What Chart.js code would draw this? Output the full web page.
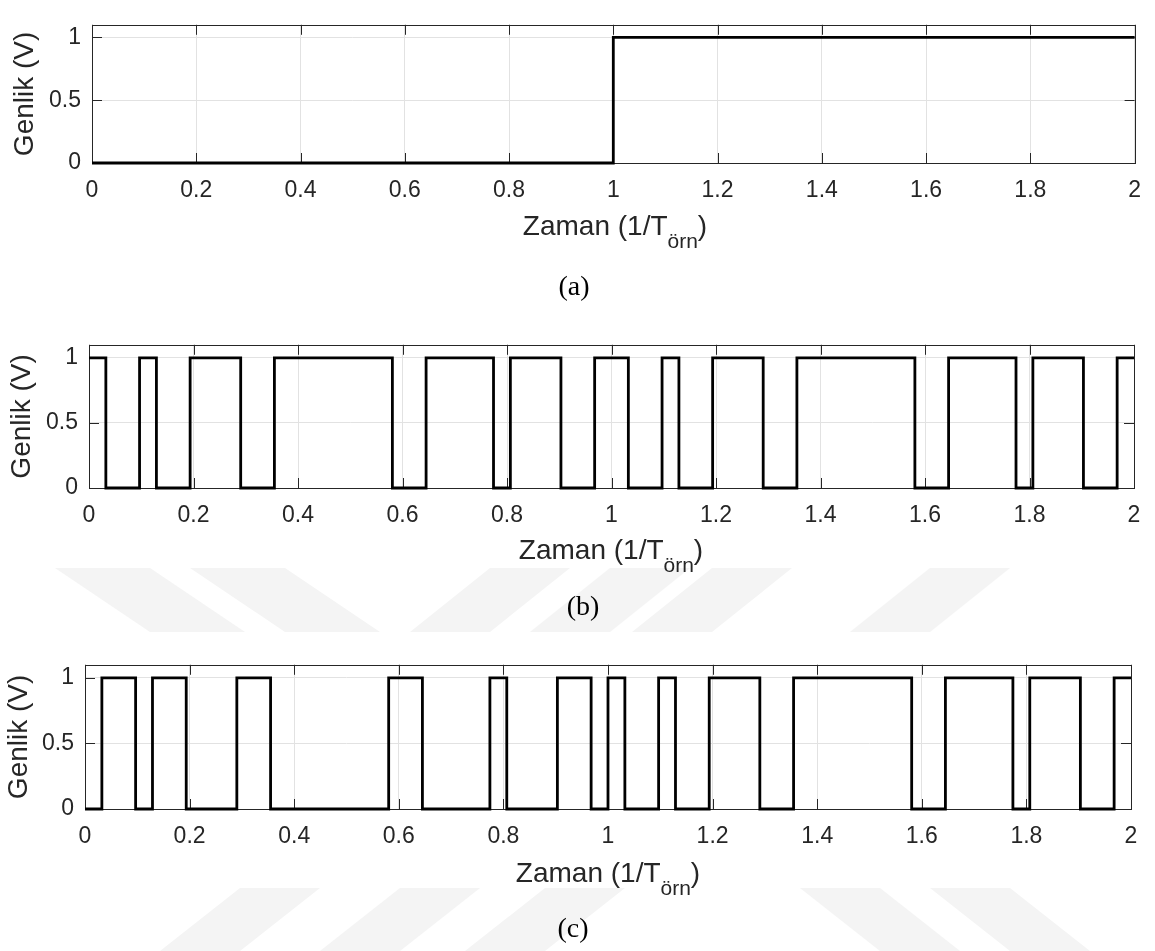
<!DOCTYPE html>
<html lang="tr">
<head>
<meta charset="utf-8">
<title>Genlik – Zaman</title>
<script src="https://cdn.jsdelivr.net/npm/chart.js@4.4.1/dist/chart.umd.min.js"></script>
<style>
  html, body { margin: 0; padding: 0; background: #fff; }
  #page { position: relative; width: 1155px; height: 951px; overflow: hidden; background: #fff; }
  #page canvas { position: absolute; left: 0; }
  .wm { position: absolute; left: 0; top: 0; }
  .xtitle {
    position: absolute; transform: translateX(-50%); white-space: nowrap;
    font-family: "Liberation Sans", Arial, sans-serif; font-size: 28px; line-height: 28px; color: #262626;
  }
  .xtitle sub { font-size: 21px; line-height: 0; vertical-align: -13px; }
  .cap {
    position: absolute; transform: translateX(-50%); white-space: nowrap;
    font-family: "Liberation Serif", "Times New Roman", serif; font-size: 28px; line-height: 28px; color: #000;
  }
</style>
</head>
<body>
<div id="page">
  <!-- faint background watermark marks -->
  <svg class="wm" width="1155" height="951">
    <g fill="#f4f4f4">
      <polygon points="55,568 150,568 245,632 150,632"/>
      <polygon points="190,568 285,568 380,632 285,632"/>
      <polygon points="490,568 570,568 490,632 410,632"/>
      <polygon points="610,568 690,568 610,632 530,632"/>
      <polygon points="712,568 792,568 712,632 632,632"/>
      <polygon points="930,568 1010,568 930,632 850,632"/>
      <polygon points="240,888 320,888 240,951 160,951"/>
      <polygon points="400,888 480,888 400,951 320,951"/>
      <polygon points="545,888 625,888 545,951 465,951"/>
      <polygon points="800,888 880,888 960,951 880,951"/>
      <polygon points="930,888 1010,888 1090,951 1010,951"/>
    </g>
  </svg>

  <canvas id="ca" width="1155" height="230" style="top:0px"></canvas>
  <canvas id="cb" width="1155" height="230" style="top:320px"></canvas>
  <canvas id="cc" width="1155" height="230" style="top:640px"></canvas>

  <div class="xtitle" style="left:615px; top:212px">Zaman (1/T<sub>örn</sub>)</div>
  <div class="cap" style="left:574px; top:272px">(a)</div>

  <div class="xtitle" style="left:611px; top:536px">Zaman (1/T<sub>örn</sub>)</div>
  <div class="cap" style="left:583px; top:592px">(b)</div>

  <div class="xtitle" style="left:608px; top:859px">Zaman (1/T<sub>örn</sub>)</div>
  <div class="cap" style="left:573px; top:914px">(c)</div>
</div>

<script>
// ---- data -------------------------------------------------------------
// (a) unit step: level held from each time to the next
const stepTimes  = [0, 1, 2];
const stepLevels = [0, 1, 1];

// chip duration of the 31-chip code (time in 1/T_örn)
const CHIP = 1 / 31;

// (b) spreading code, two periods (62 chips)
const codeB = [
  1,0,0,1,0,0,1,1,1,0,0,1,1,1,1,1,1,1,0,0,1,1,1,1,0,1,1,1,0,0,1,
  1,0,0,1,0,0,1,1,1,0,0,1,1,1,1,1,1,1,0,0,1,1,1,1,0,1,1,1,0,0,1
];

// (c) code after modulation by the data bits
const codeC = [
  0,1,1,0,1,1,0,0,0,1,1,0,0,0,0,0,0,0,1,1,0,0,0,0,1,0,0,0,1,1,0,
  1,0,0,1,0,0,1,1,1,0,0,1,1,1,1,1,1,1,0,0,1,1,1,1,0,1,1,1,0,0,1
];

// axis tick values
const xTicks = [0, 0.2, 0.4, 0.6, 0.8, 1, 1.2, 1.4, 1.6, 1.8, 2];
const yTicks = [0, 0.5, 1];
const X_RANGE = [0, 2];
const Y_RANGE = [0, 1.1];

// ---- helpers ----------------------------------------------------------
const TEXT = '#262626';
const AXIS = '#262626';
const GRID = '#e2e2e2';
const FONT = '"Liberation Sans", Arial, sans-serif';

function stepPoints(times, levels) {
  return times.map((t, i) => ({ x: t, y: levels[i] }));
}
function chipPoints(code) {
  const pts = code.map((v, i) => ({ x: i * CHIP, y: v }));
  pts.push({ x: code.length * CHIP, y: code[code.length - 1] });
  return pts;
}

// box around the plot area with inward tick marks on all four sides
const boxTicks = {
  id: 'boxTicks',
  beforeDatasetsDraw(chart) {
    const { ctx, chartArea: a, scales } = chart;
    const L = 10;
    ctx.save();
    ctx.strokeStyle = AXIS;
    ctx.lineWidth = 1;
    ctx.beginPath();
    scales.x.ticks.forEach(t => {
      const px = Math.round(scales.x.getPixelForValue(t.value)) + 0.5;
      ctx.moveTo(px, a.bottom); ctx.lineTo(px, a.bottom - L);
      ctx.moveTo(px, a.top);    ctx.lineTo(px, a.top + L);
    });
    scales.y.ticks.forEach(t => {
      const py = Math.round(scales.y.getPixelForValue(t.value)) + 0.5;
      ctx.moveTo(a.left, py);  ctx.lineTo(a.left + L, py);
      ctx.moveTo(a.right, py); ctx.lineTo(a.right - L, py);
    });
    ctx.stroke();
    ctx.strokeRect(Math.round(a.left) + 0.5, Math.round(a.top) + 0.5,
                   Math.round(a.right - a.left), Math.round(a.bottom - a.top));
    ctx.restore();
  }
};

function makePanel(id, points, box) {
  const canvas = document.getElementById(id);
  const H = canvas.height;
  return new Chart(canvas, {
    type: 'line',
    data: {
      datasets: [{
        data: points,
        stepped: 'before',
        borderColor: '#000000',
        borderWidth: 2.8,
        borderJoinStyle: 'miter',
        pointRadius: 0,
        fill: false,
        clip: false
      }]
    },
    options: {
      responsive: false,
      animation: false,
      devicePixelRatio: 1,
      layout: { padding: { left: 0, top: box.top, right: 1155 - box.right, bottom: 0 } },
      plugins: { legend: { display: false }, tooltip: { enabled: false } },
      scales: {
        x: {
          type: 'linear',
          min: X_RANGE[0], max: X_RANGE[1],
          afterBuildTicks: s => { s.ticks = xTicks.map(v => ({ value: v })); },
          afterFit: s => { s.height = H - box.bottom; },
          ticks: {
            autoSkip: false, maxRotation: 0, padding: box.xPad,
            color: TEXT, font: { family: FONT, size: 23 },
            callback: v => String(v)
          },
          grid: { color: GRID, lineWidth: 1, drawTicks: false },
          border: { display: false }
        },
        y: {
          type: 'linear',
          min: Y_RANGE[0], max: Y_RANGE[1],
          afterBuildTicks: s => { s.ticks = yTicks.map(v => ({ value: v })); },
          afterFit: s => { s.width = box.left; },
          ticks: {
            padding: 11,
            color: TEXT, font: { family: FONT, size: 23 },
            callback: v => String(v)
          },
          grid: { color: GRID, lineWidth: 1, drawTicks: false },
          border: { display: false },
          title: {
            display: true, text: 'Genlik (V)', color: TEXT,
            font: { family: FONT, size: 28 },
            padding: { top: box.yTitlePad, bottom: 0 }
          }
        }
      }
    },
    plugins: [boxTicks]
  });
}

makePanel('ca', stepPoints(stepTimes, stepLevels),
  { left: 92, right: 1139, top: 5, bottom: 163, xPad: 14, yTitlePad: 8.5 });
makePanel('cb', chipPoints(codeB),
  { left: 89, right: 1134, top: 9, bottom: 168, xPad: 14, yTitlePad: 5 });
makePanel('cc', chipPoints(codeC),
  { left: 85, right: 1131, top: 11, bottom: 169, xPad: 14, yTitlePad: 2.5 });
</script>
</body>
</html>
